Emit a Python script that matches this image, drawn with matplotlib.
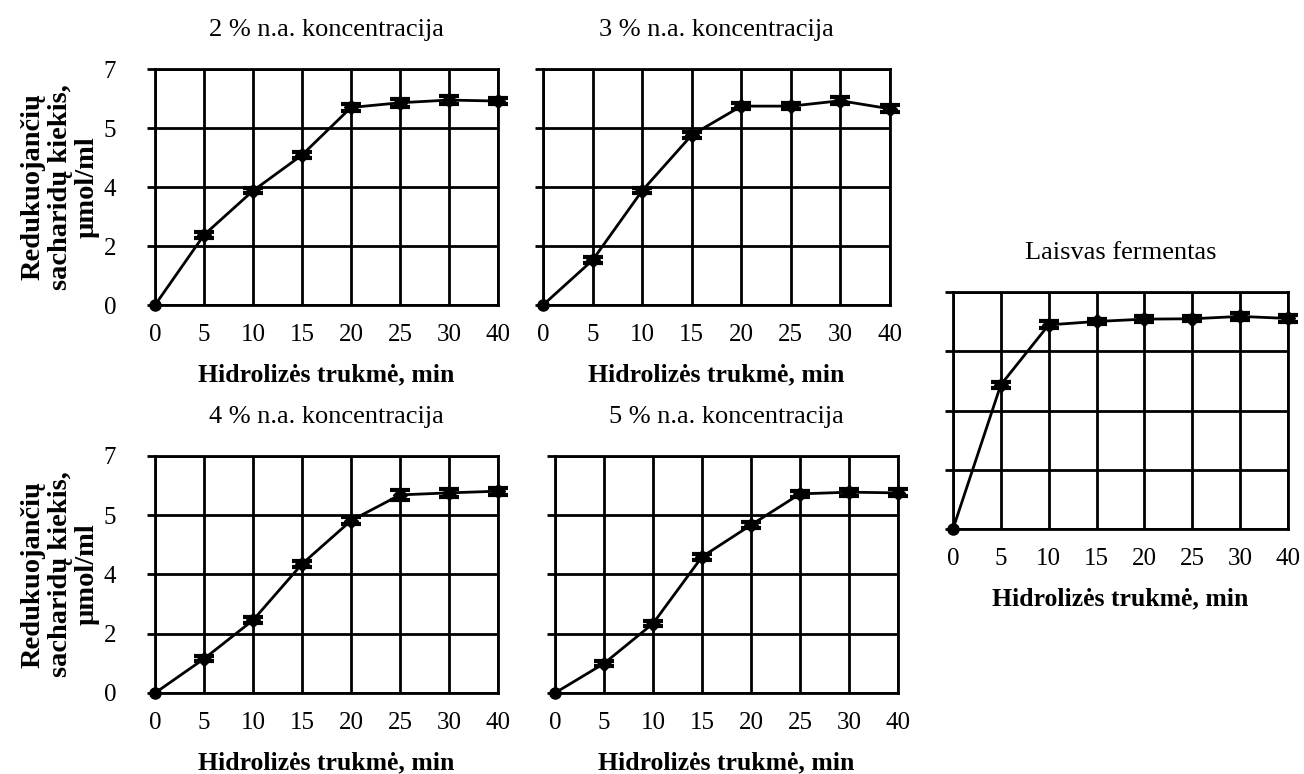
import matplotlib.pyplot as plt
import numpy as np
from matplotlib.ticker import FixedLocator, FuncFormatter

plt.rcParams["font.family"] = ["Liberation Serif", "DejaVu Serif"]

# hydrolysis time categories (min), drawn at equal spacing
times = ["0", "5", "10", "15", "20", "25", "30", "40"]

# reducing sugar amount, umol/ml
conc_2 = [0.0, 2.08, 3.39, 4.45, 5.86, 6.00, 6.08, 6.05]
conc_3 = [0.0, 1.33, 3.39, 5.04, 5.90, 5.90, 6.06, 5.82]
conc_4 = [0.0, 1.01, 2.15, 3.81, 5.09, 5.85, 5.91, 5.96]
conc_5 = [0.0, 0.87, 2.05, 4.02, 4.96, 5.88, 5.93, 5.91]
free_enz = [0.0, 4.26, 6.03, 6.13, 6.20, 6.21, 6.28, 6.22]

# standard deviations
err_2 = [0.0, 0.08, 0.08, 0.10, 0.10, 0.12, 0.12, 0.10]
err_3 = [0.0, 0.08, 0.08, 0.10, 0.08, 0.08, 0.10, 0.10]
err_4 = [0.0, 0.08, 0.08, 0.10, 0.10, 0.15, 0.12, 0.10]
err_5 = [0.0, 0.08, 0.08, 0.08, 0.10, 0.08, 0.10, 0.10]
err_free = [0.0, 0.08, 0.10, 0.08, 0.08, 0.08, 0.10, 0.10]

titles = ["2 % n.a. koncentracija", "3 % n.a. koncentracija",
          "4 % n.a. koncentracija", "5 % n.a. koncentracija",
          "Laisvas fermentas"]

YMAX = 7.0
YSTEP = 1.75  # grid every 1.75, labels rounded to whole numbers

fig = plt.figure(figsize=(13.04, 7.74), dpi=100)

# [left, bottom, width, height] in figure fractions
boxes = [
    [0.1189, 0.6059, 0.2630, 0.3049],
    [0.4164, 0.6059, 0.2661, 0.3049],
    [0.1189, 0.1047, 0.2630, 0.3062],
    [0.4256, 0.1047, 0.2630, 0.3062],
    [0.7308, 0.3165, 0.2569, 0.3062],
]
series = [conc_2, conc_3, conc_4, conc_5, free_enz]
errors = [err_2, err_3, err_4, err_5, err_free]
show_ylab = [True, False, True, False, False]

x = np.arange(len(times))

for box, y, e, title, ylab in zip(boxes, series, errors, titles, show_ylab):
    ax = fig.add_axes(box)
    ax.plot(x, y, color="black", lw=2, zorder=3, clip_on=False)
    # no error at t = 0, so that point gets a plain dot
    ax.errorbar(x[1:], y[1:], yerr=e[1:], fmt="D", color="black", ms=7,
                capsize=7, capthick=3, elinewidth=2.5, clip_on=False, zorder=3)
    ax.plot(x[0], y[0], "o", color="black", ms=8, clip_on=False, zorder=4)
    ax.set_xlim(0, len(times) - 1)
    ax.set_ylim(0, YMAX)
    ax.xaxis.set_major_locator(FixedLocator(x))
    ax.set_xticklabels(times)
    ax.yaxis.set_major_locator(FixedLocator(np.arange(0, YMAX + 0.01, YSTEP)))
    ax.yaxis.set_major_formatter(FuncFormatter(lambda v, p: f"{np.floor(v + 0.5):.0f}"))
    ax.grid(True, color="black", lw=2)
    ax.set_axisbelow(True)
    for s in ax.spines.values():
        s.set_linewidth(2)
    ax.tick_params(axis="x", length=0, pad=14, labelsize=18)
    ax.tick_params(axis="y", length=6, width=2, pad=22, labelsize=18,
                   direction="out", labelleft=ylab)
    ax.set_title(title, fontsize=19, pad=24)
    ax.set_xlabel("Hidrolizės trukmė, min", fontsize=18.5, fontweight="bold",
                  labelpad=12)
    if ylab:
        ax.set_ylabel("Redukuojančių\nsacharidų kiekis,\nµmol/ml", fontsize=20.5,
                      fontweight="bold", linespacing=1.1, labelpad=3)

fig.savefig("out.png", dpi=100)
